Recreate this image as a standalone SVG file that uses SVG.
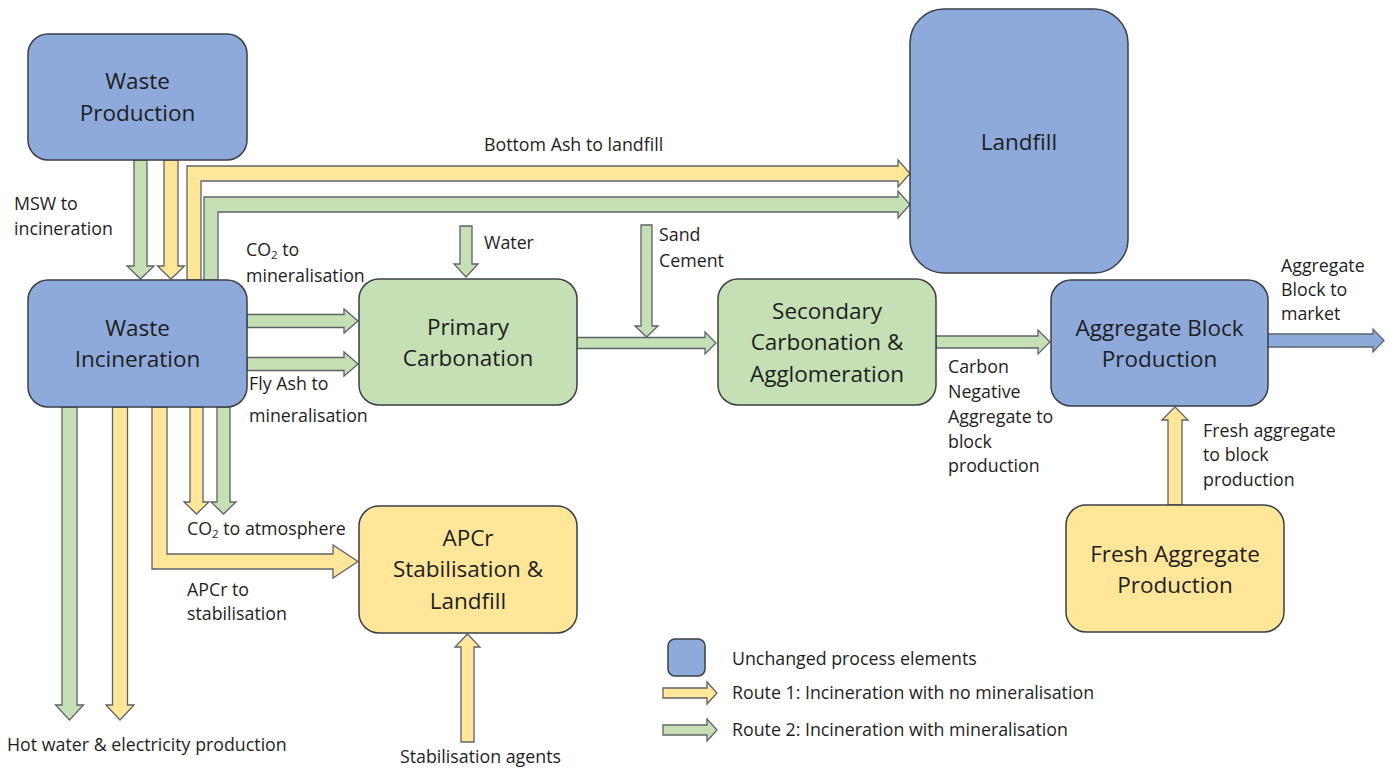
<svg xmlns="http://www.w3.org/2000/svg" width="1396" height="771" viewBox="0 0 1396 771">
  <style>
    .box { stroke: #3a3f47; stroke-width: 1.5; }
    .blue { fill: #8eaadb; }
    .green { fill: #c5e0b4; }
    .yellow { fill: #ffe699; }
    .arrow { stroke: #5f6368; stroke-width: 1.3; stroke-linejoin: miter; }
    .ablue { fill: #8eaadb; }
    .agreen { fill: #c5e0b4; }
    .ayellow { fill: #ffe699; }
    text { font-family: "Open Sans", "Liberation Sans", sans-serif; fill: #1e1e1e; }
    .node { font-size: 22.5px; text-anchor: middle; }
    .lbl { font-size: 17.8px; }
    .sub { font-size: 11.5px; }
  </style>
  <rect width="1396" height="771" fill="#ffffff"/>

  <!-- connectors -->
  <g id="connectors">
    <!-- MSW to incineration -->
    <polygon class="arrow agreen" points="134,160 134,266 127,266 140.5,279 154,266 147,266 147,160"/>
    <polygon class="arrow ayellow" points="164,160 164,266 157.5,266 171,279 184.5,266 178,266 178,160"/>
    <!-- bottom ash to landfill -->
    <polygon class="arrow ayellow" points="187,280 187,166 898,166 898,160 910,173.5 898,187 898,181 201,181 201,280"/>
    <polygon class="arrow agreen" points="204,280 204,197 898,197 898,191 910,204.5 898,218 898,212 218,212 218,280"/>
    <!-- CO2 / fly ash to mineralisation -->
    <polygon class="arrow agreen" points="247,314.5 344,314.5 344,309 358,321 344,333 344,327.5 247,327.5"/>
    <polygon class="arrow agreen" points="247,357.5 344,357.5 344,352 358,364 344,376 344,370.5 247,370.5"/>
    <!-- water -->
    <polygon class="arrow agreen" points="460,226 460,264 454,264 466,277 478,264 472,264 472,226"/>
    <!-- primary to secondary -->
    <polygon class="arrow agreen" points="577,337.5 705,337.5 705,332 716,343 705,354 705,348.5 577,348.5"/>
    <!-- sand / cement -->
    <polygon class="arrow agreen" points="641,225 641,326 635,326 646.5,337 658,326 652,326 652,225"/>
    <!-- carbon negative aggregate -->
    <polygon class="arrow agreen" points="936,336 1038,336 1038,330 1050,342 1038,354 1038,348 936,348"/>
    <!-- aggregate block to market -->
    <polygon class="arrow ablue" points="1268,334 1373,334 1373,329 1384,340.5 1373,352 1373,347 1268,347"/>
    <!-- fresh aggregate -->
    <polygon class="arrow ayellow" points="1168,505 1168,420 1162,420 1175,407 1188,420 1182,420 1182,505"/>
    <!-- stabilisation agents -->
    <polygon class="arrow ayellow" points="461,742 461,647 455,647 467.5,634 480,647 474,647 474,742"/>
    <!-- hot water & electricity -->
    <polygon class="arrow agreen" points="62,407 62,705 55.5,705 69.5,720 83.5,705 77,705 77,407"/>
    <polygon class="arrow ayellow" points="112.5,407 112.5,705 106,705 120,720 134,705 127.5,705 127.5,407"/>
    <!-- CO2 to atmosphere -->
    <polygon class="arrow ayellow" points="190,407 190,502 184,502 196.5,514 209,502 203,502 203,407"/>
    <polygon class="arrow agreen" points="217,407 217,502 211,502 223.5,514 236,502 230,502 230,407"/>
    <!-- APCr to stabilisation -->
    <polygon class="arrow ayellow" points="152,407 152,569 333,569 333,578 358,561.5 333,545 333,554 167,554 167,407"/>
  </g>

  <!-- nodes -->
  <g id="waste-production">
    <rect class="box blue" x="28" y="34" width="219" height="126" rx="20"/>
    <text class="node" x="137.5" y="89">Waste</text>
    <text class="node" x="137.5" y="121">Production</text>
  </g>
  <g id="waste-incineration">
    <rect class="box blue" x="28" y="280" width="219" height="127" rx="20"/>
    <text class="node" x="137.5" y="336">Waste</text>
    <text class="node" x="137.5" y="367">Incineration</text>
  </g>
  <g id="landfill">
    <rect class="box blue" x="910" y="9" width="218" height="264" rx="34"/>
    <text class="node" x="1019" y="150">Landfill</text>
  </g>
  <g id="primary-carbonation">
    <rect class="box green" x="359" y="279" width="218" height="126" rx="20"/>
    <text class="node" x="468" y="335">Primary</text>
    <text class="node" x="468" y="366">Carbonation</text>
  </g>
  <g id="secondary-carbonation">
    <rect class="box green" x="718" y="279" width="218" height="126" rx="20"/>
    <text class="node" x="827" y="319">Secondary</text>
    <text class="node" x="827" y="350">Carbonation &amp;</text>
    <text class="node" x="827" y="382">Agglomeration</text>
  </g>
  <g id="aggregate-block">
    <rect class="box blue" x="1051" y="280" width="217" height="126" rx="20"/>
    <text class="node" x="1159.5" y="336">Aggregate Block</text>
    <text class="node" x="1159.5" y="367">Production</text>
  </g>
  <g id="apcr-stabilisation">
    <rect class="box yellow" x="359" y="506" width="218" height="127" rx="20"/>
    <text class="node" x="468" y="546">APCr</text>
    <text class="node" x="468" y="577">Stabilisation &amp;</text>
    <text class="node" x="468" y="609">Landfill</text>
  </g>
  <g id="fresh-aggregate">
    <rect class="box yellow" x="1066" y="505" width="218" height="127" rx="20"/>
    <text class="node" x="1175" y="562">Fresh Aggregate</text>
    <text class="node" x="1175" y="593">Production</text>
  </g>

  <!-- flow labels -->
  <g id="labels" class="lbl">
    <text class="lbl" x="14" y="210">MSW to</text>
    <text class="lbl" x="14" y="235">incineration</text>
    <text class="lbl" x="484" y="151">Bottom Ash to landfill</text>
    <text class="lbl" x="246" y="256">CO<tspan class="sub" dy="3">2</tspan><tspan dy="-3"> to</tspan></text>
    <text class="lbl" x="246" y="282">mineralisation</text>
    <text class="lbl" x="484" y="249">Water</text>
    <text class="lbl" x="659" y="241">Sand</text>
    <text class="lbl" x="659" y="267">Cement</text>
    <text class="lbl" x="249" y="390">Fly Ash to</text>
    <text class="lbl" x="249" y="422">mineralisation</text>
    <text class="lbl" x="187" y="535">CO<tspan class="sub" dy="3">2</tspan><tspan dy="-3"> to atmosphere</tspan></text>
    <text class="lbl" x="187" y="596">APCr to</text>
    <text class="lbl" x="187" y="620">stabilisation</text>
    <text class="lbl" x="7" y="751">Hot water &amp; electricity production</text>
    <text class="lbl" x="400" y="763">Stabilisation agents</text>
    <text class="lbl" x="948" y="373">Carbon</text>
    <text class="lbl" x="948" y="398">Negative</text>
    <text class="lbl" x="948" y="423">Aggregate to</text>
    <text class="lbl" x="948" y="448">block</text>
    <text class="lbl" x="948" y="472">production</text>
    <text class="lbl" x="1281" y="272">Aggregate</text>
    <text class="lbl" x="1281" y="296">Block to</text>
    <text class="lbl" x="1281" y="320">market</text>
    <text class="lbl" x="1203" y="437">Fresh aggregate</text>
    <text class="lbl" x="1203" y="461">to block</text>
    <text class="lbl" x="1203" y="486">production</text>
  </g>

  <!-- legend -->
  <g id="legend">
    <rect class="box blue" x="668" y="639" width="37" height="37" rx="7"/>
    <text class="lbl" x="732" y="665">Unchanged process elements</text>
    <polygon class="arrow ayellow" points="663,688 707,688 707,682 717,693 707,704 707,698 663,698"/>
    <text class="lbl" x="732" y="699">Route 1: Incineration with no mineralisation</text>
    <polygon class="arrow agreen" points="663,725 707,725 707,719 717,730 707,741 707,735 663,735"/>
    <text class="lbl" x="732" y="736">Route 2: Incineration with mineralisation</text>
  </g>
</svg>
